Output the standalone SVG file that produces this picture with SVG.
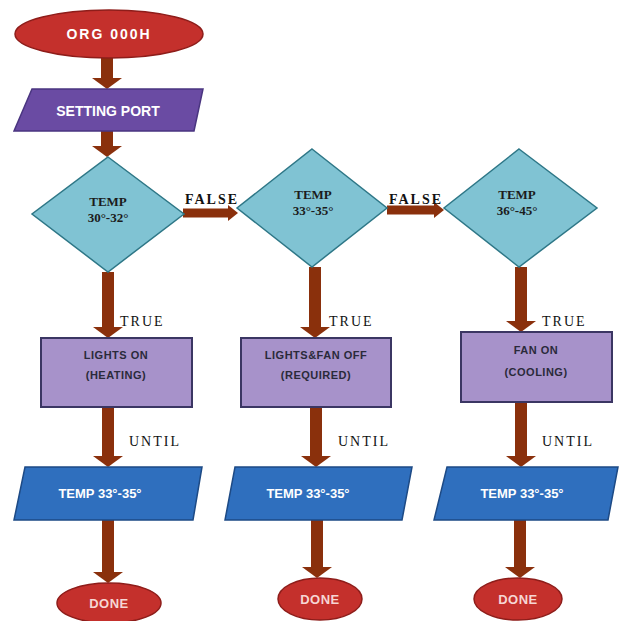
<svg xmlns="http://www.w3.org/2000/svg" width="620" height="621" viewBox="0 0 620 621">
<defs>
<marker id="head" viewBox="0 -15 11 30" refX="0" refY="0" markerWidth="11" markerHeight="30" markerUnits="userSpaceOnUse" orient="auto">
<path d="M0,-15 L11,0 L0,15 z" fill="#8a300c"/>
</marker>
<marker id="headS" viewBox="0 -8 10 16" refX="0" refY="0" markerWidth="10" markerHeight="16" markerUnits="userSpaceOnUse" orient="auto">
<path d="M0,-8 L10,0 L0,8 z" fill="#8a300c"/>
</marker>
<style>
.arr{stroke:#8a300c;stroke-width:12;fill:none;marker-end:url(#head)}
.arrh{stroke:#8a300c;stroke-width:9;fill:none;marker-end:url(#headS)}
.term{fill:#c4302c;stroke:#8e1d1a;stroke-width:1.5}
.io1{fill:#6a4ba3;stroke:#4a3580;stroke-width:1.5}
.dec{fill:#80c3d3;stroke:#2e7787;stroke-width:1.5}
.proc{fill:#a792ca;stroke:#3b3663;stroke-width:2}
.io2{fill:#2f6fbe;stroke:#1d4a85;stroke-width:1.5}
.wt{font-family:"Liberation Sans",Arial,sans-serif;font-weight:bold;fill:#ffffff;text-anchor:middle}
.dt{font-family:"Liberation Serif","Times New Roman",serif;font-weight:bold;font-size:13px;fill:#1c1c1c;text-anchor:middle}
.pt{font-family:"Liberation Sans",Arial,sans-serif;font-weight:bold;font-size:11px;fill:#2a2a3a;text-anchor:middle;letter-spacing:0.5px}
.lbl{font-family:"Liberation Serif","Times New Roman",serif;font-size:14px;fill:#111;letter-spacing:2px}
.done{font-family:"Liberation Sans",Arial,sans-serif;font-weight:bold;font-size:13px;fill:#f6d6d4;text-anchor:middle;letter-spacing:0.5px}
</style>
</defs>
<rect width="620" height="621" fill="#ffffff"/>

<g id="connectors">
<line class="arr" x1="107" y1="58" x2="107" y2="78"/>
<line class="arr" x1="107" y1="131" x2="107" y2="146"/>
<line class="arr" x1="108" y1="272" x2="108" y2="327"/>
<line class="arr" x1="108" y1="407" x2="108" y2="456"/>
<line class="arr" x1="108" y1="520" x2="108" y2="572"/>
<line class="arr" x1="315" y1="267" x2="315" y2="327"/>
<line class="arr" x1="316" y1="407" x2="316" y2="456"/>
<line class="arr" x1="317" y1="520" x2="317" y2="567"/>
<line class="arr" x1="521" y1="267" x2="521" y2="321"/>
<line class="arr" x1="521" y1="402" x2="521" y2="456"/>
<line class="arr" x1="520" y1="520" x2="520" y2="567"/>
<line class="arrh" x1="183" y1="213" x2="228" y2="213"/>
<line class="arrh" x1="387" y1="210" x2="434" y2="210"/>
<text class="lbl" x="185" y="204" font-weight="bold">FALSE</text>
<text class="lbl" x="389" y="204" font-weight="bold">FALSE</text>
<text class="lbl" x="120" y="326">TRUE</text>
<text class="lbl" x="329" y="326">TRUE</text>
<text class="lbl" x="542" y="326">TRUE</text>
<text class="lbl" x="129" y="446">UNTIL</text>
<text class="lbl" x="338" y="446">UNTIL</text>
<text class="lbl" x="542" y="446">UNTIL</text>
</g>

<g id="start">
<ellipse class="term" cx="109" cy="34" rx="94" ry="24"/>
<text class="wt" x="109" y="39" font-size="14" letter-spacing="2">ORG 000H</text>
</g>

<g id="setting-port">
<polygon class="io1" points="32,89 203,89 194,131 14,131"/>
<text class="wt" x="108" y="116" font-size="14">SETTING PORT</text>
</g>

<g id="decision-1">
<polygon class="dec" points="108,157 184,214 108,272 32,214"/>
<text class="dt" x="108" y="206">TEMP</text>
<text class="dt" x="108" y="222">30°-32°</text>
</g>

<g id="decision-2">
<polygon class="dec" points="312,149 387,208 312,267 237,208"/>
<text class="dt" x="313" y="199">TEMP</text>
<text class="dt" x="313" y="215">33°-35°</text>
</g>

<g id="decision-3">
<polygon class="dec" points="519,149 597,208 519,267 444,208"/>
<text class="dt" x="517" y="199">TEMP</text>
<text class="dt" x="517" y="215">36°-45°</text>
</g>

<g id="process-1">
<rect class="proc" x="41" y="338" width="151" height="69"/>
<text class="pt" x="116" y="359">LIGHTS ON</text>
<text class="pt" x="116" y="379">(HEATING)</text>
</g>

<g id="process-2">
<rect class="proc" x="241" y="338" width="150" height="69"/>
<text class="pt" x="316" y="359">LIGHTS&amp;FAN OFF</text>
<text class="pt" x="316" y="379">(REQUIRED)</text>
</g>

<g id="process-3">
<rect class="proc" x="461" y="332" width="151" height="70"/>
<text class="pt" x="536" y="354">FAN ON</text>
<text class="pt" x="536" y="376">(COOLING)</text>
</g>

<g id="io-1">
<polygon class="io2" points="25,467 202,467 193,520 14,520"/>
<text class="wt" x="100" y="498" font-size="13" font-weight="normal">TEMP 33°-35°</text>
</g>

<g id="io-2">
<polygon class="io2" points="235,467 412,467 402,520 225,520"/>
<text class="wt" x="308" y="498" font-size="13" font-weight="normal">TEMP 33°-35°</text>
</g>

<g id="io-3">
<polygon class="io2" points="447,467 618,467 608,520 434,520"/>
<text class="wt" x="522" y="498" font-size="13" font-weight="normal">TEMP 33°-35°</text>
</g>

<g id="done-1">
<ellipse class="term" cx="109" cy="603" rx="52" ry="20"/>
<text class="done" x="109" y="608">DONE</text>
</g>

<g id="done-2">
<ellipse class="term" cx="320" cy="599" rx="42" ry="21"/>
<text class="done" x="320" y="604">DONE</text>
</g>

<g id="done-3">
<ellipse class="term" cx="518" cy="599" rx="44" ry="21"/>
<text class="done" x="518" y="604">DONE</text>
</g>
</svg>
